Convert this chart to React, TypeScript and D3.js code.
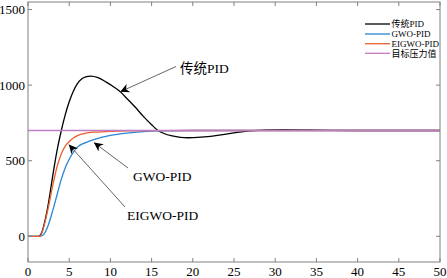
import React from "react";
import * as d3 from "d3";

const W = 447;
const H = 278;

const xTicks = [0, 5, 10, 15, 20, 25, 30, 35, 40, 45, 50];
const yTicks = [0, 500, 1000, 1500];

const pidT = [0, 1.3, 1.7, 2, 2.5, 3, 3.5, 4, 4.5, 5, 5.5, 6, 6.5, 7, 7.6, 8.5, 9.5, 10.5, 11.2, 12, 13, 14, 15, 15.7, 16.5, 17.5, 18.5, 19.4, 21, 23, 25, 27, 29, 31, 34, 37, 40, 50];
const pidY = [0, 0, 30, 90, 225, 400, 560, 690, 800, 890, 960, 1010, 1040, 1055, 1060, 1050, 1020, 985, 956, 912, 855, 793, 738, 703, 680, 664, 655, 652, 656, 668, 684, 697, 704, 706, 704, 701, 700, 700];

const eiT = [0, 1.4, 1.8, 2, 2.5, 3, 3.5, 4, 4.5, 5, 5.5, 6, 7, 8, 10, 12, 15, 20, 50];
const eiY = [0, 0, 40, 80, 200, 335, 455, 540, 595, 627, 650, 666, 682, 689, 694, 697, 699, 700, 700];

const gwT = [0, 1.5, 2, 2.5, 3, 3.5, 4, 4.5, 5, 5.5, 6, 7, 8, 9, 10, 12, 14, 16, 20, 50];
const gwY = [0, 0, 20, 80, 170, 270, 370, 450, 510, 555, 590, 620, 640, 656, 668, 683, 692, 697, 700, 700];

const refT = [0, 50];
const refY = [700, 700];

const legendNames = ["传统PID", "GWO-PID", "EIGWO-PID", "目标压力值"];
const colors = ["#000000", "#2a86d4", "#e8602c", "#c07cc4"];

const serif = "'Liberation Serif', 'Times New Roman', 'Noto Sans CJK SC', serif";

export default function App() {
  const left = 28, right = 440, top = 2, bottom = 262;
  const x = d3.scaleLinear().domain([0, 50]).range([left, right]);
  const y = d3.scaleLinear().domain([-170, 1550]).range([bottom, top]);

  const line = d3
    .line<[number, number]>()
    .x((d) => x(d[0]))
    .y((d) => y(d[1]))
    .curve(d3.curveMonotoneX);

  const zip = (t: number[], v: number[]) => t.map((ti, i) => [ti, v[i]] as [number, number]);
  const series = [
    zip(pidT, pidY),
    zip(gwT, gwY),
    zip(eiT, eiY),
    zip(refT, refY),
  ];

  const axisColor = "#808080";
  const tickLen = 4;

  const legendX0 = 365, legendX1 = 390;
  const legendY = [24, 34, 43.7, 53.3];

  return (
    <svg
      width={W}
      height={H}
      style={{ position: "absolute", left: 0, top: 0, background: "#fff" }}
      fontFamily={serif}
    >
      <defs>
        <clipPath id="plotclip">
          <rect x={left} y={top} width={right - left} height={bottom - top} />
        </clipPath>
        <marker id="arr" viewBox="0 0 10 10" refX="10" refY="5" markerWidth="9" markerHeight="9" orient="auto" markerUnits="userSpaceOnUse">
          <path d="M0,0 L10,5 L0,10 L3,5 Z" fill="#000" />
        </marker>
      </defs>
      <rect x={0} y={0} width={W} height={H} fill="#fff" />

      <g clipPath="url(#plotclip)">
        {series.map((s, i) => (
          <path key={i} d={line(s) || ""} fill="none" stroke={colors[i]} strokeWidth={1.3} />
        ))}
      </g>

      {/* axes box */}
      <rect x={left} y={top} width={right - left} height={bottom - top} fill="none" stroke={axisColor} strokeWidth={1} />
      {xTicks.map((t) => (
        <g key={"x" + t}>
          <line x1={x(t)} x2={x(t)} y1={bottom} y2={bottom - tickLen} stroke={axisColor} />
          <line x1={x(t)} x2={x(t)} y1={top} y2={top + tickLen} stroke={axisColor} />
          <text x={x(t)} y={276} fontSize={13} textAnchor="middle" fill="#000">
            {t}
          </text>
        </g>
      ))}
      {yTicks.map((t) => (
        <g key={"y" + t}>
          <line x1={left} x2={left + tickLen} y1={y(t)} y2={y(t)} stroke={axisColor} />
          <line x1={right} x2={right - tickLen} y1={y(t)} y2={y(t)} stroke={axisColor} />
          <text x={25} y={y(t) + 4.5} fontSize={13} textAnchor="end" fill="#000">
            {t}
          </text>
        </g>
      ))}

      {/* legend */}
      {legendNames.map((n, i) => (
        <g key={n}>
          <line x1={legendX0} x2={legendX1} y1={legendY[i]} y2={legendY[i]} stroke={colors[i]} strokeWidth={1.3} />
          <text x={legendX1 + 1.5} y={legendY[i] + 3.2} fontSize={9} fill="#000">
            {n}
          </text>
        </g>
      ))}

      {/* annotations */}
      <line x1={176} y1={66.5} x2={x(11.2)} y2={y(956)} stroke="#666" strokeWidth={1} markerEnd="url(#arr)" />
      <text x={180} y={73} fontSize={13.5} fill="#000">传统PID</text>

      <line x1={128} y1={168} x2={x(8)} y2={y(640) + 3} stroke="#666" strokeWidth={1} markerEnd="url(#arr)" />
      <text x={133} y={181} fontSize={13.5} fill="#000">GWO-PID</text>

      <line x1={125} y1={207} x2={x(4.95)} y2={y(627) + 3} stroke="#666" strokeWidth={1} markerEnd="url(#arr)" />
      <text x={127} y={220} fontSize={13.5} fill="#000">EIGWO-PID</text>
    </svg>
  );
}
